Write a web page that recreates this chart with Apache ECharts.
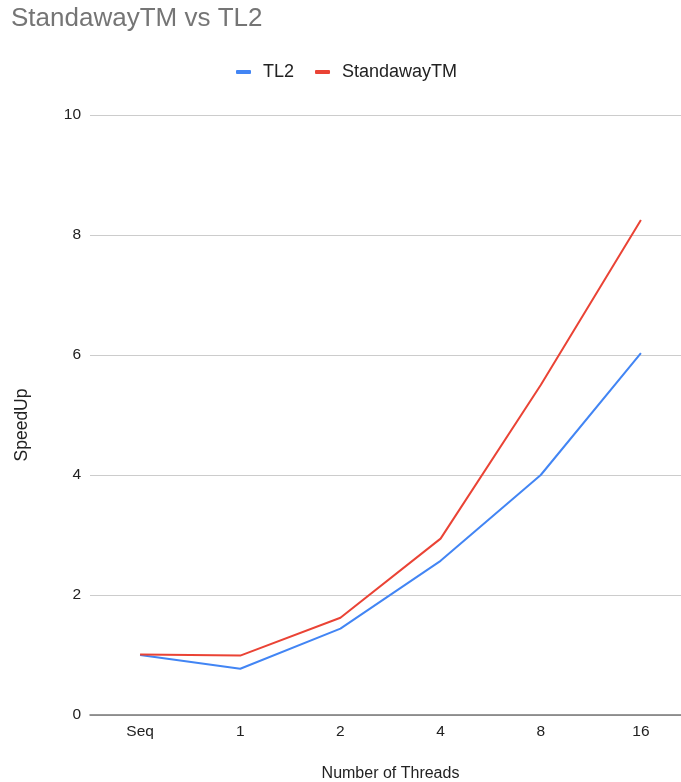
<!DOCTYPE html>
<html>
<head>
<meta charset="utf-8">
<script src="https://cdn.jsdelivr.net/npm/echarts@6/dist/echarts.min.js"></script>
<style>
  html, body { margin: 0; padding: 0; background: #fff; }
  #chart { width: 681px; height: 782px; }
</style>
</head>
<body>
<div id="chart"></div>
<script>
// Thread counts on the x axis
const threads = ['Seq', '1', '2', '4', '8', '16'];
// Speedup relative to the sequential run
const tl2 = [1.0, 0.77, 1.44, 2.57, 4.0, 6.03];
const standaway = [1.01, 0.99, 1.62, 2.94, 5.5, 8.25];
const yTicks = [0, 2, 4, 6, 8, 10];

const chart = echarts.init(document.getElementById('chart'), null, { renderer: 'canvas' });
const font = '"Liberation Sans", Arial, sans-serif';

chart.setOption({
  animation: false,
  backgroundColor: '#ffffff',
  title: {
    text: 'StandawayTM vs TL2',
    left: 11,
    top: 6,
    padding: 0,
    textStyle: { fontFamily: font, fontSize: 26, fontWeight: 'normal', color: '#757575' }
  },
  legend: {
    top: 63,
    left: 236,
    padding: 0,
    itemWidth: 15,
    itemHeight: 4,
    itemGap: 21,
    icon: 'roundRect',
    textStyle: { fontFamily: font, fontSize: 18, color: '#222222', padding: [0, 0, 0, 7] },
    data: ['TL2', 'StandawayTM']
  },
  grid: { left: 90, width: 601, top: 115, bottom: 67, outerBoundsMode: 'none', containLabel: false },
  xAxis: {
    type: 'category',
    data: threads,
    boundaryGap: true,
    name: 'Number of Threads',
    nameLocation: 'middle',
    nameGap: 51,
    nameTextStyle: { fontFamily: font, fontSize: 16, color: '#222222' },
    axisLine: { lineStyle: { color: '#777777', width: 1.5 } },
    axisTick: { show: false },
    axisLabel: { fontFamily: font, fontSize: 15.5, color: '#222222', margin: 9 }
  },
  yAxis: {
    type: 'value',
    min: yTicks[0],
    max: yTicks[yTicks.length - 1],
    interval: 2,
    name: 'SpeedUp',
    nameLocation: 'middle',
    nameGap: 59,
    nameTextStyle: { fontFamily: font, fontSize: 17.5, color: '#222222', padding: [0, 20, 0, 0] },
    axisLine: { show: false },
    axisTick: { show: false },
    axisLabel: { fontFamily: font, fontSize: 15.5, color: '#222222', margin: 9 },
    splitLine: { lineStyle: { color: '#cccccc', width: 1 } }
  },
  series: [
    {
      name: 'TL2',
      type: 'line',
      data: tl2,
      symbol: 'none',
      color: '#4285F4',
      lineStyle: { width: 2, color: '#4285F4' }
    },
    {
      name: 'StandawayTM',
      type: 'line',
      data: standaway,
      symbol: 'none',
      color: '#EA4335',
      lineStyle: { width: 2, color: '#EA4335' }
    }
  ]
});
</script>
</body>
</html>
